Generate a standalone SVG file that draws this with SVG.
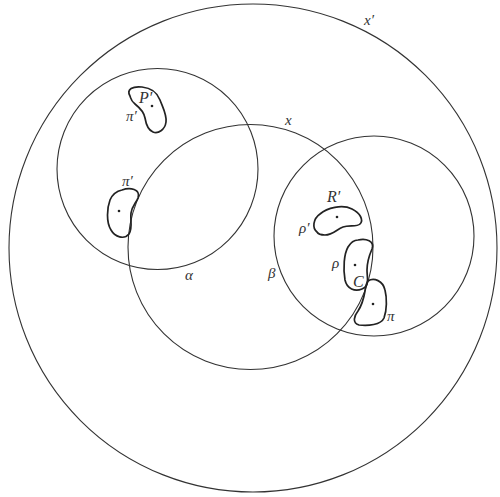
<svg xmlns="http://www.w3.org/2000/svg" width="500" height="497" viewBox="0 0 500 497">
<style>
.c{fill:none;stroke:#333;stroke-width:1.1}
.b{fill:none;stroke:#222;stroke-width:1.7}
.d{fill:#222}
text{font-family:"Liberation Serif","DejaVu Serif",serif;font-style:italic;font-size:15px;fill:#333}
</style>
<rect width="500" height="497" fill="#fff"/>
<g id="circles">
<circle id="xprime" class="c" cx="253" cy="248" r="244"/>
<circle id="alpha" class="c" cx="157.5" cy="169" r="100.5"/>
<circle id="x" class="c" cx="250.5" cy="247" r="122.5"/>
<circle id="beta" class="c" cx="374" cy="236" r="100"/>
</g>
<g id="blobP">
<path class="b" d="M130,96 C126,89 133,86 142,87 C152,88 157,92 160,100 C163,108 167,115 166,122 C165,130 158,134 153,132 C148,130 146,124 145,118 C144,112 140,108 135,104 C131,101 131,99 130,96 Z"/>
<circle class="d" cx="152" cy="106" r="1.3"/>
</g>
<g id="blobPi2">
<path class="b" d="M122,190 C130,187 141,189 138,198 C136,203 132,206 131,213 C130,220 133,228 129,234 C124,240 115,237 111,230 C106,222 107,208 110,200 C113,193 117,191 122,190 Z"/>
<circle class="d" cx="119" cy="211" r="1.3"/>
</g>
<g id="blobR">
<path class="b" d="M317,232 C312,228 313,219 320,214 C327,208 342,204 352,209 C360,213 364,220 360,224 C357,227 349,225 343,227 C337,229 333,235 325,235 C320,235 318,234 317,232 Z"/>
<circle class="d" cx="337" cy="217" r="1.3"/>
</g>
<g id="blobRho">
<path class="b" d="M358,240 C366,238 375,241 372,249 C369,256 367,262 367,270 C367,278 370,286 362,289 C355,292 347,289 345,280 C343,268 344,254 348,247 C351,242 355,240 358,240 Z"/>
<circle class="d" cx="355" cy="265" r="1.3"/>
</g>
<g id="blobPi">
<path class="b" d="M368,281 C374,277 383,281 385,290 C387,298 387,310 384,318 C381,325 368,326 359,325 C352,323 354,316 358,311 C362,305 364,297 365,291 C366,286 366,283 368,281 Z"/>
<circle class="d" cx="373" cy="304" r="1.3"/>
</g>
<g id="labels">
<text x="364" y="25">x′</text>
<text x="285" y="125">x</text>
<text x="185" y="280">α</text>
<text x="268" y="278">β</text>
<text x="139" y="103" style="font-size:16px">P′</text>
<text x="126" y="121">π′</text>
<text x="122" y="186">π′</text>
<text x="327" y="202" style="font-size:16px">R′</text>
<text x="299" y="233">ρ′</text>
<text x="332" y="268">ρ</text>
<text x="353" y="287" style="font-size:16px">C</text>
<text x="387" y="321">π</text>
</g>
</svg>
